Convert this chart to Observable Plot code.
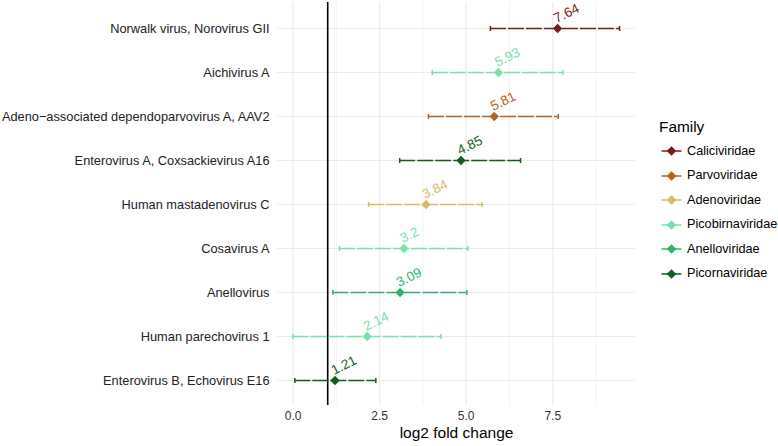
<!DOCTYPE html>
<html><head><meta charset="utf-8">
<script src="https://cdn.jsdelivr.net/npm/d3@7"></script>
<script src="https://cdn.jsdelivr.net/npm/@observablehq/plot@0.6"></script>
<style>
body{margin:0;background:#fff;}
#wrap{position:relative;width:778px;height:446px;font-family:"Liberation Sans",Arial,Helvetica,sans-serif;overflow:hidden;}
.lg-title{position:absolute;font-size:15.4px;color:#000;line-height:1;}
.lg-item{position:absolute;display:flex;align-items:center;font-size:12.7px;color:#000;line-height:1;}
.lg-item svg{margin-right:5px;}
</style></head><body><div id="wrap"></div>
<script>
const viruses = ["Norwalk virus, Norovirus GII","Aichivirus A","Adeno\u2212associated dependoparvovirus A, AAV2","Enterovirus A, Coxsackievirus A16","Human mastadenovirus C","Cosavirus A","Anellovirus","Human parechovirus 1","Enterovirus B, Echovirus E16"];
const families = ["Caliciviridae","Picobirnaviridae","Parvoviridae","Picornaviridae","Adenoviridae","Picobirnaviridae","Anelloviridae","Picobirnaviridae","Picornaviridae"];
const log2fc = [7.64,5.93,5.81,4.85,3.84,3.2,3.09,2.14,1.21];
const ciLow = [5.70,4.02,3.91,3.08,2.18,1.34,1.15,0.00,0.05];
const ciHigh = [9.43,7.79,7.66,6.57,5.46,5.05,5.02,4.27,2.39];
const familyOrder = ["Caliciviridae","Parvoviridae","Adenoviridae","Picobirnaviridae","Anelloviridae","Picornaviridae"];
const familyColors = ["#7b1a16","#b9621c","#d8ba63","#73e3ab","#2bb46c","#105d1c"];
const xTicks = [0,2.5,5,7.5];
const xMinor = [1.25,3.75,6.25,8.75];
const refLine = [1];
const axisTitle = "log2 fold change";
const legendTitle = "Family";

const data = viruses.map((v,i)=>({name:v, family:families[i], val:log2fc[i], lo:ciLow[i], hi:ciHigh[i]}));
const cap = {draw(ctx, size){const h = Math.sqrt(size/Math.PI); ctx.moveTo(0,-h); ctx.lineTo(0,h);}};
const grid = "#ebebeb";

const chart = Plot.plot({
  width:778, height:446,
  marginLeft:277, marginRight:143, marginTop:2, marginBottom:41,
  style:{fontFamily:'"Liberation Sans",Arial,Helvetica,sans-serif', fontSize:"12px", color:"#333", background:"white"},
  x:{domain:[-0.45,9.89]},
  y:{type:"point", domain:viruses, padding:0.55},
  color:{type:"ordinal", domain:familyOrder, range:familyColors},
  marks:[
    Plot.ruleX(xMinor, {stroke:grid, strokeWidth:0.6}),
    Plot.ruleX(xTicks, {stroke:grid, strokeWidth:1.1}),
    Plot.ruleY(viruses, {y:d=>d, stroke:grid, strokeWidth:1.1}),
    Plot.axisX({ticks:xTicks, tickFormat:d3.format(".1f"), tickSize:0, tickPadding:6, label:null, fontSize:12, fill:"#333"}),
    Plot.axisY({tickSize:0, tickPadding:8, label:null, fontSize:12.8, fill:"#222"}),
    Plot.text([axisTitle], {frameAnchor:"bottom", dy:32, fontSize:15.5, fill:"#000"}),
    Plot.ruleX(refLine, {stroke:"#000", strokeWidth:1.6}),
    Plot.ruleY(data, {y:"name", x1:"lo", x2:"hi", stroke:"family", strokeWidth:1.5, strokeDasharray:"16,2"}),
    Plot.dot(data, {x:"lo", y:"name", symbol:cap, r:2.5, stroke:"family", strokeWidth:1.5}),
    Plot.dot(data, {x:"hi", y:"name", symbol:cap, r:2.5, stroke:"family", strokeWidth:1.5}),
    Plot.dot(data, {x:"val", y:"name", symbol:"diamond2", r:4.2, fill:"family"}),
    Plot.text(data, {x:"val", y:"name", text:d=>String(d.val), fill:"family", rotate:-26, textAnchor:"start", lineAnchor:"bottom", dx:-1, dy:-5.5, fontSize:13.5})
  ]
});
const wrap = document.getElementById("wrap");
wrap.appendChild(chart);

const t = document.createElement("div");
t.className = "lg-title"; t.textContent = legendTitle;
t.style.left = "659px"; t.style.top = "119px";
wrap.appendChild(t);
familyOrder.forEach((f,i)=>{
  const it = document.createElement("div");
  it.className = "lg-item";
  it.style.left = "661px"; it.style.top = (151 + i*24.5 - 7) + "px";
  const c = familyColors[i];
  it.innerHTML = `<svg width="21" height="14"><line x1="0.5" y1="7" x2="20.5" y2="7" stroke="${c}" stroke-width="1.5"/><path d="M10.5,2.2L15.3,7L10.5,11.8L5.7,7Z" fill="${c}"/></svg><span>${f}</span>`;
  wrap.appendChild(it);
});
</script></body></html>
